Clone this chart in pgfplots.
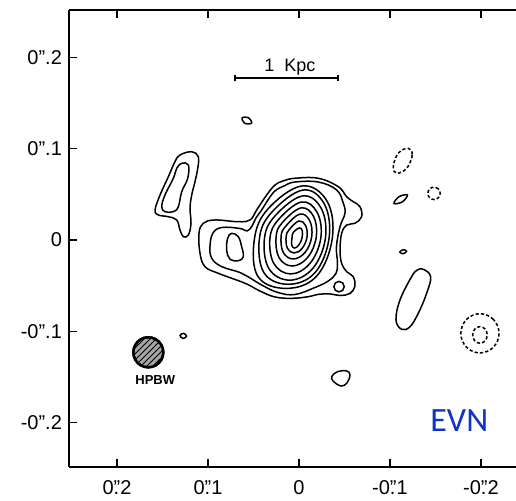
\documentclass[border=0pt]{standalone}
\usepackage{fontspec}
\setmainfont{Liberation Sans}
\newfontfamily\evnfont{Carlito}
\usepackage{pgfplots}
\pgfplotsset{compat=1.18}
\usetikzlibrary{patterns}
\definecolor{evnblue}{RGB}{15,50,200}
\begin{document}
\begin{tikzpicture}
\begin{axis}[
  name=ax,
  scale only axis, width=223.5pt, height=228.5pt,
  x dir=reverse,
  xmin=-0.2385, xmax=0.2528, ymin=-0.2486, ymax=0.2519,
  axis x line*=box, axis y line*=left,
  axis line style={line width=0.9pt, black},
  tick align=inside, major tick length=4pt,
  tick style={line width=0.8pt, black},
  xtick={-0.2,-0.1,0,0.1,0.2},
  xticklabels={-0\rlap{.}"2,-0\rlap{.}"1,0,0\rlap{.}"1,0\rlap{.}"2},
  ytick={-0.2,-0.1,0,0.1,0.2},
  yticklabels={-0".2,-0".1,0,0".1,0".2},
  tick label style={font=\fontsize{10}{11}\selectfont},
  xticklabel style={yshift=-3pt},
  clip=false,
  cont/.style={black, line width=0.75pt, smooth cycle, tension=0.65, mark=none},
  dcont/.style={cont, dash pattern=on 1.6pt off 1.1pt},
]
% ---- main source: outer contour (level 1)
\addplot[cont] coordinates {(0.1099,0.0073) (0.1052,0.0183) (0.0923,0.0219) (0.0667,0.0200) (0.0538,0.0219) (0.0465,0.0329) (0.0355,0.0493) (0.0264,0.0602) (0.0176,0.0646) (0.0044,0.0676) (-0.0212,0.0676) (-0.0432,0.0584) (-0.0524,0.0474) (-0.0597,0.0419) (-0.0670,0.0365) (-0.0689,0.0255) (-0.0615,0.0183) (-0.0524,0.0164) (-0.0469,0.0073) (-0.0451,-0.0110) (-0.0469,-0.0255) (-0.0524,-0.0347) (-0.0597,-0.0402) (-0.0615,-0.0504) (-0.0560,-0.0586) (-0.0451,-0.0608) (-0.0341,-0.0591) (-0.0212,-0.0595) (-0.0102,-0.0621) (0.0080,-0.0639) (0.0264,-0.0624) (0.0429,-0.0559) (0.0593,-0.0474) (0.0887,-0.0365) (0.1033,-0.0292) (0.1088,-0.0146)};
% level 2
\addplot[cont] coordinates {(0.0978,-0.0066) (0.0945,0.0077) (0.0846,0.0137) (0.0648,0.0126) (0.0571,0.0099) (0.0516,0.0153) (0.0473,0.0241) (0.0410,0.0329) (0.0341,0.0438) (0.0264,0.0537) (0.0154,0.0597) (0.0044,0.0635) (-0.0212,0.0635) (-0.0414,0.0548) (-0.0487,0.0402) (-0.0505,0.0292) (-0.0451,0.0146) (-0.0412,-0.0073) (-0.0423,-0.0255) (-0.0407,-0.0365) (-0.0322,-0.0449) (-0.0176,-0.0520) (0.0044,-0.0597) (0.0231,-0.0575) (0.0410,-0.0493) (0.0630,-0.0365) (0.0849,-0.0292) (0.0959,-0.0200)};
% small loops
\addplot[cont] coordinates {(0.0740,0.0073) (0.0667,0.0036) (0.0630,-0.0073) (0.0612,-0.0183) (0.0667,-0.0227) (0.0758,-0.0211) (0.0795,-0.0110) (0.0784,0.0019)};
\addplot[cont] coordinates {(-0.0497,-0.0511) (-0.0480,-0.0470) (-0.0440,-0.0454) (-0.0400,-0.0470) (-0.0383,-0.0511) (-0.0400,-0.0552) (-0.0440,-0.0568) (-0.0480,-0.0552)};
% rings
\addplot[cont] coordinates {(-0.0365,0.0011) (-0.0310,0.0422) (-0.0032,0.0592) (0.0341,0.0340) (0.0490,0.0011) (0.0451,-0.0400) (0.0142,-0.0530) (-0.0190,-0.0400)};
\addplot[cont] coordinates {(-0.0330,0.0016) (-0.0280,0.0391) (-0.0042,0.0547) (0.0302,0.0301) (0.0435,0.0016) (0.0385,-0.0359) (0.0118,-0.0485) (-0.0175,-0.0359)};
\addplot[cont] coordinates {(-0.0290,0.0016) (-0.0245,0.0345) (-0.0037,0.0482) (0.0264,0.0263) (0.0380,0.0016) (0.0331,-0.0313) (0.0103,-0.0440) (-0.0150,-0.0313)};
\addplot[cont] coordinates {(-0.0240,0.0022) (-0.0200,0.0301) (-0.0026,0.0416) (0.0225,0.0224) (0.0319,0.0022) (0.0277,-0.0257) (0.0092,-0.0372) (-0.0120,-0.0257)};
\addplot[cont] coordinates {(-0.0190,0.0033) (-0.0160,0.0258) (-0.0021,0.0351) (0.0187,0.0186) (0.0252,0.0033) (0.0220,-0.0192) (0.0075,-0.0285) (-0.0095,-0.0192)};
\addplot[cont] coordinates {(-0.0140,0.0038) (-0.0117,0.0212) (-0.0010,0.0284) (0.0148,0.0148) (0.0197,0.0038) (0.0173,-0.0136) (0.0064,-0.0208) (-0.0067,-0.0136)};
\addplot[cont] coordinates {(-0.0088,0.0033) (-0.0073,0.0157) (0.0001,0.0208) (0.0110,0.0110) (0.0142,0.0033) (0.0127,-0.0091) (0.0053,-0.0142) (-0.0035,-0.0091)};
\addplot[cont] coordinates {(-0.0033,0.0022) (-0.0036,0.0100) (-0.0006,0.0132) (0.0062,0.0085) (0.0077,0.0022) (0.0080,-0.0056) (0.0050,-0.0088) (0.0002,-0.0056)};
% ---- NW feature
\addplot[cont] coordinates {(0.1308,0.0931) (0.1179,0.0967) (0.1107,0.0912) (0.1113,0.0785) (0.1143,0.0639) (0.1179,0.0493) (0.1198,0.0347) (0.1187,0.0183) (0.1216,0.0055) (0.1271,0.0036) (0.1308,0.0110) (0.1344,0.0219) (0.1436,0.0255) (0.1546,0.0274) (0.1582,0.0329) (0.1527,0.0493) (0.1436,0.0693) (0.1363,0.0858)};
\addplot[cont] coordinates {(0.1289,0.0840) (0.1216,0.0821) (0.1223,0.0676) (0.1289,0.0529) (0.1326,0.0365) (0.1381,0.0310) (0.1473,0.0310) (0.1509,0.0365) (0.1473,0.0493) (0.1381,0.0676) (0.1344,0.0785)};
% ---- small isolated features
\addplot[cont] coordinates {(0.0626,0.1336) (0.0555,0.1340) (0.0522,0.1281) (0.0593,0.1276)};
\addplot[cont] coordinates {(0.1307,-0.1046) (0.1268,-0.1022) (0.1236,-0.1054) (0.1275,-0.1078)};
\addplot[cont] coordinates {(-0.0363,-0.1490) (-0.0429,-0.1440) (-0.0527,-0.1435) (-0.0560,-0.1479) (-0.0527,-0.1566) (-0.0462,-0.1599) (-0.0374,-0.1544)};
\addplot[cont] coordinates {(-0.1044,0.0400) (-0.1100,0.0474) (-0.1192,0.0493) (-0.1136,0.0418)};
\addplot[cont] coordinates {(-0.1183,-0.0123) (-0.1146,-0.0106) (-0.1109,-0.0133) (-0.1146,-0.0150)};
\addplot[cont] coordinates {(-0.1366,-0.0321) (-0.1447,-0.0402) (-0.1403,-0.0584) (-0.1311,-0.0803) (-0.1220,-0.0950) (-0.1129,-0.0978) (-0.1066,-0.0876) (-0.1110,-0.0657) (-0.1238,-0.0402) (-0.1300,-0.0329)};
% ---- negative (dashed) contours
\addplot[dcont] coordinates {(-0.1201,0.1004) (-0.1245,0.0931) (-0.1184,0.0785) (-0.1074,0.0731) (-0.1036,0.0803) (-0.1091,0.0950)};
\addplot[dcont] coordinates {(-0.1552,0.0511) (-0.1532,0.0559) (-0.1484,0.0579) (-0.1436,0.0559) (-0.1416,0.0511) (-0.1436,0.0463) (-0.1484,0.0443) (-0.1532,0.0463)};
\addplot[dcont] coordinates {(-0.2199,-0.1022) (-0.2137,-0.0870) (-0.1989,-0.0807) (-0.1841,-0.0870) (-0.1779,-0.1022) (-0.1841,-0.1174) (-0.1989,-0.1237) (-0.2137,-0.1174)};
\addplot[dcont] coordinates {(-0.2069,-0.1040) (-0.2046,-0.0976) (-0.1989,-0.0949) (-0.1932,-0.0976) (-0.1909,-0.1040) (-0.1932,-0.1104) (-0.1989,-0.1131) (-0.2046,-0.1104)};
% ---- HPBW beam
\addplot[black, line width=1.2pt, smooth cycle, tension=0.6, mark=none, fill=black!35, postaction={pattern=north east lines}] coordinates {(0.1821,-0.1230) (0.1799,-0.1148) (0.1739,-0.1087) (0.1656,-0.1065) (0.1574,-0.1087) (0.1513,-0.1148) (0.1491,-0.1230) (0.1513,-0.1313) (0.1574,-0.1373) (0.1656,-0.1395) (0.1739,-0.1373) (0.1799,-0.1313)};
% ---- scale bar
\addplot[black, line width=1pt, mark=none] coordinates {(0.0703,0.1774) (-0.0429,0.1774)};
\addplot[black, line width=1pt, mark=none] coordinates {(0.0703,0.1744) (0.0703,0.1804)};
\addplot[black, line width=1pt, mark=none] coordinates {(-0.0429,0.1744) (-0.0429,0.1804)};
\node[font=\fontsize{9}{10}\selectfont] at (axis cs:0.0099,0.1890) {1\ \ Kpc};
\node[font=\bfseries\fontsize{6.5}{7}\selectfont] at (axis cs:0.158,-0.1539) {HPBW};
\node[font=\evnfont\fontsize{17}{18}\selectfont, text=evnblue] at (axis cs:-0.1762,-0.1977) {EVN};
\coordinate (o) at (rel axis cs:0,0);
\end{axis}
\pgfresetboundingbox
\path (o) ++(-34.5pt,-17pt) rectangle ++(258pt,250.5pt);
\end{tikzpicture}
\end{document}
